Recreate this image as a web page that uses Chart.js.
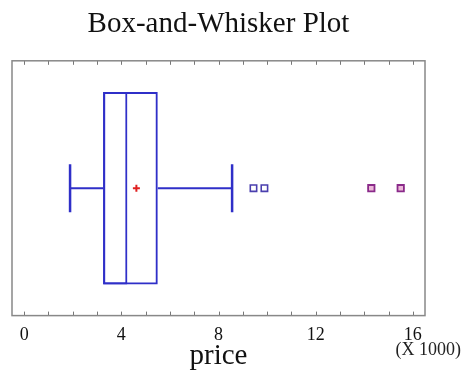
<!DOCTYPE html>
<html>
<head>
<meta charset="utf-8">
<script src="https://cdn.jsdelivr.net/npm/chart.js@4/dist/chart.umd.min.js"></script>
<style>
  html, body { margin: 0; padding: 0; background: #fff; }
  #wrap { width: 461px; height: 383px; }
</style>
</head>
<body>
<div id="wrap"><canvas id="chart1"></canvas></div>
<script>
// price summary, in thousands
const category = ["price"];
const boxStats = { min: 1.89, q1: 3.25, median: 4.25, q3: 5.5, max: 8.56 };
const meanValue = [4.62];
const outsidePoints = [9.44, 9.89];
const farOutsidePoints = [14.29, 15.5];
const tickLabels = ["0", "4", "8", "12", "16"];

const BLUE = "#2f2fc8";
const SERIF = "'Liberation Serif', 'DejaVu Serif', serif";

const onRow = (v) => ({ x: v, y: category[0] });

// inner tick marks on top and bottom edge, plus the multiplier note
const frameTicks = {
  id: "frameTicks",
  afterDraw(chart) {
    const { ctx, chartArea: a, scales: { x } } = chart;
    ctx.save();
    ctx.strokeStyle = "#777";
    ctx.lineWidth = 1;
    for (let v = 0; v <= 16; v++) {
      const px = Math.round(x.getPixelForValue(v)) + 0.5;
      ctx.beginPath();
      ctx.moveTo(px, a.bottom); ctx.lineTo(px, a.bottom - 4);
      ctx.moveTo(px, a.top); ctx.lineTo(px, a.top + 4);
      ctx.stroke();
    }
    ctx.strokeStyle = "#888";
    ctx.lineWidth = 1.5;
    ctx.strokeRect(a.left, a.top, a.right - a.left, a.bottom - a.top);
    ctx.fillStyle = "#222";
    ctx.font = "18px " + SERIF;
    ctx.textAlign = "right";
    ctx.textBaseline = "middle";
    ctx.fillText("(X 1000)", 461, 350);
    ctx.restore();
  }
};

new Chart(document.getElementById("chart1"), {
  data: {
    labels: category,
    datasets: [
      // whole box q1..q3, then q1..median on top of it for the median line
      {
        type: "bar", indexAxis: "y", grouped: false,
        data: [[boxStats.q1, boxStats.q3]],
        backgroundColor: "rgba(0,0,0,0)", borderColor: BLUE, borderWidth: 2, borderSkipped: false,
        categoryPercentage: 1, barPercentage: 0.756
      },
      {
        type: "bar", indexAxis: "y", grouped: false,
        data: [[boxStats.q1, boxStats.median]],
        backgroundColor: "rgba(0,0,0,0)", borderColor: BLUE, borderWidth: 2, borderSkipped: false,
        categoryPercentage: 1, barPercentage: 0.756
      },
      {
        type: "line", data: [onRow(boxStats.min), onRow(boxStats.q1)],
        borderColor: BLUE, borderWidth: 2, pointRadius: 0
      },
      {
        type: "line", data: [onRow(boxStats.q3), onRow(boxStats.max)],
        borderColor: BLUE, borderWidth: 2, pointRadius: 0
      },
      {
        type: "line", showLine: false,
        data: [onRow(boxStats.min), onRow(boxStats.max)],
        pointStyle: "line", rotation: 90, pointRadius: 24,
        pointBorderColor: BLUE, pointBorderWidth: 2.5
      },
      {
        type: "line", showLine: false, data: meanValue.map(onRow),
        pointStyle: "cross", pointRadius: 3.5,
        pointBorderColor: "#e02020", pointBorderWidth: 2
      },
      {
        type: "line", showLine: false, data: outsidePoints.map(onRow),
        pointStyle: "rect", pointRadius: 4.5,
        pointBackgroundColor: "#fff", pointBorderColor: "#4a3fae", pointBorderWidth: 1.6
      },
      {
        type: "line", showLine: false, data: farOutsidePoints.map(onRow),
        pointStyle: "rect", pointRadius: 4.5,
        pointBackgroundColor: "#ecb8d8", pointBorderColor: "#8a2a8a", pointBorderWidth: 1.8
      },
      {
        type: "line", showLine: false, data: farOutsidePoints.map(onRow),
        pointStyle: "cross", pointRadius: 3.5,
        pointBorderColor: "#e02040", pointBorderWidth: 1.8
      }
    ]
  },
  options: {
    responsive: true,
    maintainAspectRatio: false,
    animation: false,
    layout: { autoPadding: false, padding: { left: 12, right: 36, top: 7, bottom: 0 } },
    plugins: {
      legend: { display: false },
      tooltip: { enabled: false },
      title: {
        display: true,
        text: "Box-and-Whisker Plot",
        color: "#111",
        font: { family: SERIF, size: 29, weight: "normal" },
        padding: { top: 0, bottom: 19 }
      }
    },
    scales: {
      x: {
        type: "linear",
        min: -0.5, max: 16.5,
        afterBuildTicks: (axis) => {
          axis.ticks = tickLabels.map((t) => ({ value: Number(t) }));
        },
        ticks: {
          color: "#111",
          font: { family: SERIF, size: 18 },
          padding: 9,
          maxRotation: 0,
          autoSkip: false
        },
        grid: { display: false, drawTicks: false },
        border: { display: false },
        title: {
          display: true,
          text: "price",
          color: "#111",
          font: { family: SERIF, size: 29 },
          padding: { top: -16, bottom: 9 }
        }
      },
      y: {
        type: "category",
        display: false,
        offset: true
      }
    }
  },
  plugins: [frameTicks]
});
</script>
</body>
</html>
